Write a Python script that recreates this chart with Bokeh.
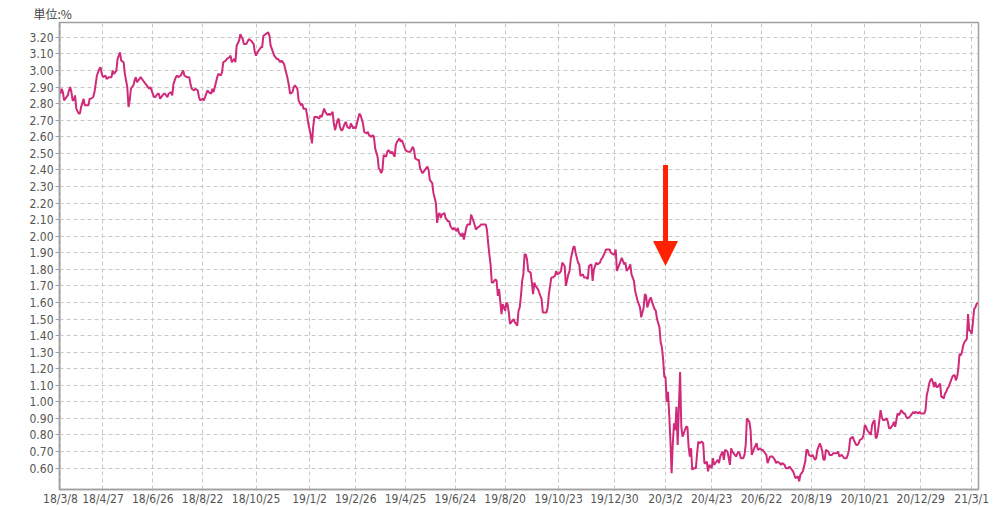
from bokeh.plotting import figure
from bokeh.models import Range1d, FixedTicker, PrintfTickFormatter, Arrow, NormalHead, ColumnDataSource, Title
from bokeh.embed import file_html
from bokeh.resources import INLINE

# ---- data: trading-day index (0 = 18/3/8) and yield (%) ----
days_A = [0,1,2,3,4,6,7,8,9,10,11,12,13,15,16,17,19,20,21,23,24,25,27,28,29,30,32,33,34,35,37,38,40,42,43,44,46,47,49,50,52,53,54,55,56,57,58,60,61,62,63,65,66,68,70,71,73,74,75,77,78,80,81,82,84,85,86,88,89,91,92,93,95,96,97,99,101,102,104,106,107,108,110,111,113,114,115,117,118,119,121,122,124,125,126,128,129,130,132,133,134,136,137,139,140,141,143,144,145,147,148,150,151,153,155,157,159,160,161,162,164,165,166,167,169,171,172,173,175,176,178,179,181,182,184,185,187,188,189,191,192,193,195,196,198,199,200,202,203,204,206,207,208,209,211,213,214,215,217,218,220,221,222,224,225,226,228,229,230]
vals_A = [2.86,2.89,2.87,2.82,2.83,2.85,2.88,2.90,2.87,2.82,2.82,2.85,2.77,2.74,2.74,2.78,2.83,2.79,2.79,2.79,2.83,2.83,2.84,2.87,2.92,2.97,3.01,3.02,2.98,2.96,2.97,2.95,2.96,2.96,3.00,2.98,3.00,3.07,3.11,3.06,3.05,2.98,2.94,2.90,2.78,2.82,2.89,2.91,2.94,2.96,2.93,2.95,2.96,2.94,2.92,2.91,2.89,2.90,2.88,2.84,2.84,2.86,2.86,2.83,2.85,2.86,2.86,2.84,2.86,2.87,2.85,2.92,2.96,2.97,2.96,2.97,3.00,2.97,2.96,2.96,2.92,2.89,2.88,2.89,2.88,2.84,2.82,2.83,2.82,2.84,2.88,2.87,2.86,2.89,2.87,2.93,2.96,2.98,2.97,2.99,3.05,3.06,3.07,3.08,3.09,3.05,3.07,3.05,3.15,3.18,3.22,3.19,3.16,3.16,3.19,3.18,3.16,3.11,3.09,3.11,3.13,3.14,3.14,3.21,3.22,3.23,3.21,3.15,3.11,3.09,3.07,3.07,3.05,3.06,3.04,3.01,2.95,2.91,2.86,2.87,2.90,2.91,2.89,2.82,2.79,2.80,2.77,2.77,2.73,2.68,2.61,2.56,2.66,2.72,2.72,2.71,2.73,2.72,2.77,2.75,2.73,2.74,2.73,2.75,2.68,2.64,2.70,2.71,2.66]

days_B = [231,232,234,235,236,238,239,241,242,243,245,246,247,249,250,252,253,254,256,257,258,259,261,262,263,264,265,266,268,269,270,272,273,275,276,277,279,280,281,283,284,286,287,288,290,291,292,294,295,296,298,299,300,302,303,304,306,307,308,309,310,311,312,313,314,316,317,319,320,321,323,324,326,327,328,330,331,332,334,335,337,338,339,340,342,343,345,346,347,349,350,351,352,353,354,355]
vals_B = [2.64,2.64,2.68,2.69,2.66,2.65,2.68,2.65,2.66,2.65,2.71,2.74,2.73,2.68,2.63,2.62,2.63,2.61,2.60,2.61,2.60,2.53,2.48,2.41,2.40,2.38,2.40,2.49,2.48,2.51,2.52,2.50,2.51,2.48,2.55,2.57,2.59,2.57,2.58,2.54,2.52,2.51,2.51,2.51,2.54,2.52,2.47,2.46,2.46,2.41,2.38,2.39,2.40,2.42,2.40,2.34,2.32,2.26,2.23,2.20,2.08,2.13,2.14,2.11,2.13,2.14,2.11,2.09,2.09,2.06,2.04,2.05,2.03,2.05,2.02,2.00,2.02,1.98,2.05,2.07,2.07,2.13,2.11,2.09,2.04,2.05,2.06,2.07,2.07,2.07,2.07,2.04,1.96,1.89,1.83,1.72]

days_C = [356,358,359,360,361,363,364,365,366,367,368,369,370,372,373,374,376,377,378,379,380,381,382,383,384,385,387,388,389,390,391,393,394,396,397,398,400,401,402,404,405,407,408,409,411,412,413,415,416,418,419,420,422,423,424,426,427,428,430,431,433,434,435,437,438,439,441,442,444,445,446,448,449,450,452,453,455,456,457,458,459,461,462,464,465,466,468,469,470,472,473,475,476,477,478,480,481,482,483,485,486,487,489,490,491,493,494,495,496,497,498]
vals_C = [1.72,1.74,1.73,1.64,1.68,1.53,1.59,1.57,1.55,1.60,1.59,1.54,1.47,1.49,1.50,1.48,1.46,1.55,1.57,1.64,1.73,1.77,1.89,1.89,1.86,1.79,1.78,1.72,1.65,1.72,1.70,1.68,1.66,1.62,1.54,1.54,1.54,1.57,1.65,1.75,1.75,1.76,1.79,1.77,1.78,1.79,1.84,1.82,1.70,1.77,1.79,1.86,1.93,1.94,1.90,1.84,1.83,1.76,1.77,1.75,1.75,1.74,1.82,1.83,1.73,1.80,1.84,1.83,1.84,1.86,1.87,1.90,1.92,1.92,1.92,1.90,1.89,1.89,1.92,1.79,1.81,1.85,1.87,1.83,1.84,1.79,1.81,1.83,1.77,1.73,1.67,1.61,1.59,1.57,1.51,1.57,1.65,1.64,1.57,1.62,1.63,1.60,1.56,1.55,1.50,1.45,1.36,1.33,1.26,1.15,1.15]

days_D = [499,500,501,502,503,504,505,506,507,508,509,510,511,512,514,515,516,517,518,519,520,521,523,524,525,526,528,529,530,531,532,533,534,536,537,538,540,541,542,543,545,546,547,549,550,551,552,553,555,556,558,559,560,562,563,564,565,567,568,569,570,571,573,574,576,577,578,580,581,582,584,585,586,588,589,590,592,593,594,596,597,599,600,601,603,604,605,607,608,609,610,611,613,614,615,616,618,619,621,622,623,625,626,627,628,629,630,632,633,635,636,637,639,640,641,643,644,645,647,648,649,650,651,652,653,655,656,657,658,660,661,662,663,664,666,667,668,669,670,671,672,673,674,675,676,677,678,680,681,682,683,685,686,687,689,690,691,692,694,695,696,697,699,700,702,703,704,706,707,708,710,711,712,713,714,715,716]
vals_D = [1.00,1.06,0.93,0.77,0.57,0.75,0.87,0.83,0.97,0.74,0.97,1.18,0.85,0.79,0.83,0.85,0.85,0.73,0.67,0.72,0.59,0.60,0.60,0.69,0.76,0.75,0.76,0.75,0.63,0.63,0.64,0.58,0.62,0.60,0.66,0.62,0.64,0.65,0.63,0.67,0.70,0.65,0.71,0.70,0.66,0.62,0.72,0.70,0.68,0.67,0.70,0.69,0.66,0.66,0.68,0.74,0.90,0.88,0.83,0.68,0.70,0.72,0.75,0.71,0.72,0.71,0.71,0.69,0.68,0.63,0.67,0.67,0.67,0.65,0.63,0.64,0.63,0.62,0.63,0.62,0.60,0.60,0.61,0.60,0.58,0.56,0.54,0.55,0.52,0.56,0.57,0.58,0.64,0.71,0.71,0.68,0.67,0.68,0.65,0.66,0.71,0.75,0.73,0.70,0.65,0.65,0.71,0.70,0.68,0.68,0.69,0.69,0.69,0.70,0.67,0.68,0.67,0.66,0.66,0.68,0.71,0.78,0.78,0.79,0.77,0.74,0.74,0.75,0.77,0.78,0.80,0.86,0.85,0.83,0.81,0.80,0.86,0.88,0.89,0.78,0.79,0.83,0.89,0.95,0.91,0.89,0.89,0.90,0.88,0.84,0.84,0.86,0.88,0.85,0.93,0.92,0.93,0.95,0.93,0.93,0.91,0.90,0.91,0.92,0.94,0.93,0.94,0.93,0.94,0.93,0.93,0.93,0.95,1.04,1.07,1.11,1.13]

days_E = [717,718,719,720,721,722,724,725,726,727,728,729,730,731,733,734,735,736,737,738,739,740,741,742,743,744,745,746,747,748,749,750,751,752,753,754,755]
vals_E = [1.14,1.12,1.09,1.12,1.09,1.09,1.11,1.03,1.03,1.02,1.05,1.06,1.08,1.09,1.13,1.15,1.16,1.16,1.13,1.15,1.20,1.29,1.28,1.30,1.34,1.36,1.37,1.38,1.53,1.43,1.43,1.41,1.48,1.56,1.57,1.59,1.60]

tick_days = [0, 35, 76, 117, 161, 205, 243, 284, 325, 366, 410, 456, 498, 536, 577, 618, 662, 708, 750]
tick_labels = ["18/3/8", "18/4/27", "18/6/26", "18/8/22", "18/10/25", "19/1/2", "19/2/26",
               "19/4/25", "19/6/24", "19/8/20", "19/10/23", "19/12/30", "20/3/2", "20/4/23",
               "20/6/22", "20/8/19", "20/10/21", "20/12/29", "21/3/1"]
y_ticks = [0.60, 0.70, 0.80, 0.90, 1.00, 1.10, 1.20, 1.30, 1.40, 1.50, 1.60, 1.70, 1.80,
           1.90, 2.00, 2.10, 2.20, 2.30, 2.40, 2.50, 2.60, 2.70, 2.80, 2.90, 3.00, 3.10, 3.20]
unit_label = "単位:%"

# arrow annotation (marks the 20/3/2 crash)
arrow_day = 498
arrow_from, arrow_to = 2.43, 1.82

days = days_A + days_B + days_C + days_D + days_E
vals = vals_A + vals_B + vals_C + vals_D + vals_E
assert len(days) == len(vals), (len(days), len(vals))

FONT = "'Liberation Sans Narrow', 'DejaVu Sans Condensed', sans-serif"
LABEL_COLOR = "#555555"

p = figure(frame_width=919, frame_height=467,
           x_range=Range1d(-0.8, 755.6), y_range=Range1d(0.471, 3.29),
           output_backend="svg", toolbar_location=None,
           min_border_left=59, min_border_right=24, min_border_top=22, min_border_bottom=0,
           background_fill_color="white", border_fill_color="white",
           outline_line_color="#a0a0a0", outline_line_width=1.5)

t = Title(text=unit_label, align="left", offset=-26, standoff=1,
          text_font="Noto Sans CJK JP", text_font_size="12px", text_font_style="normal",
          text_color="#444444")
p.add_layout(t, "above")

src = ColumnDataSource(dict(day=days, val=vals))
p.line("day", "val", source=src, line_color="#D02A7A", line_width=2)

p.add_layout(Arrow(end=NormalHead(size=25, fill_color="#FF2200", line_color="#FF2200", line_width=0),
                   x_start=arrow_day, y_start=arrow_from, x_end=arrow_day, y_end=arrow_to,
                   line_color="#FF2200", line_width=5))

xa = p.xaxis[0]
xa.ticker = FixedTicker(ticks=tick_days)
xa.major_label_overrides = {d: l for d, l in zip(tick_days, tick_labels)}
xa.minor_tick_line_color = None
xa.major_tick_out = 1
xa.major_tick_in = 0
xa.major_label_standoff = 1
xa.axis_line_color = "#a0a0a0"
xa.axis_line_width = 1.5
xa.major_tick_line_color = "#a0a0a0"
xa.major_label_text_font = FONT
xa.major_label_text_font_size = "12px"
xa.major_label_text_color = LABEL_COLOR

ya = p.yaxis[0]
ya.ticker = FixedTicker(ticks=y_ticks)
ya.formatter = PrintfTickFormatter(format="%.2f")
ya.minor_tick_line_color = None
ya.major_tick_out = 4
ya.major_tick_in = 0
ya.major_label_standoff = 2
ya.axis_line_color = "#a0a0a0"
ya.axis_line_width = 1.5
ya.major_tick_line_color = "#a0a0a0"
ya.major_label_text_font = FONT
ya.major_label_text_font_size = "12px"
ya.major_label_text_color = LABEL_COLOR

for g in (p.xgrid[0], p.ygrid[0]):
    g.grid_line_color = "#c8c8c8"
    g.grid_line_dash = "4 3"
    g.grid_line_width = 1

with open("out.html", "w") as f:
    f.write(file_html(p, INLINE))
